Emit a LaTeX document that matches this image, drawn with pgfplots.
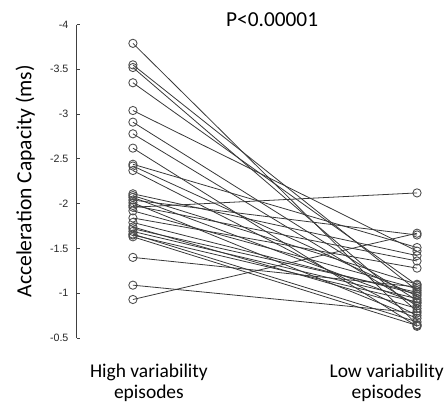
\documentclass[border=0pt]{standalone}
\usepackage{pgfplots}
\pgfplotsset{compat=1.18}
\usepackage{fontspec}
\setmainfont{Carlito}
\newfontfamily\arialf{Liberation Sans}
\begin{document}
\begin{tikzpicture}
\useasboundingbox (-57.5pt,-48.75pt) rectangle (277pt,253.5pt);
\begin{axis}[
  at={(0,0)}, anchor=south west,
  scale only axis, width=277pt, height=235.1pt,
  xmin=0.802, xmax=2.102, ymin=-4, ymax=-0.5,
  y dir=reverse,
  axis lines*=left,
  axis line style={-, line width=0.6pt, color=black!75},
  x axis line style={draw=none},
  xtick={1.0563,1.893},
  xticklabels={{High variability\\episodes},{Low variability\\episodes}},
  xtick style={draw=none},
  xticklabel style={align=center, inner sep=0pt, anchor=north, yshift=-19.5pt,
    font=\fontsize{14.6}{15.8}\selectfont},
  ytick={-4,-3.5,-3,-2.5,-2,-1.5,-1,-0.5},
  yticklabels={-4,-3.5,-3,-2.5,-2,-1.5,-1,-0.5},
  yticklabel style={font=\arialf\fontsize{8}{9}\selectfont, inner sep=0pt, xshift=-6pt, color=black!85},
  tick align=inside, major tick length=2.5pt,
  ytick style={line width=0.6pt, color=black!75},
  ylabel={Acceleration Capacity (ms)},
  ylabel style={at={(axis description cs:-0.1223,0.5)}, anchor=base,
    font=\fontsize{16.2}{18}\selectfont},
  clip=false,
  cycle list={{black}},
  every axis plot post/.append style={color=black!78, solid, line width=0.6pt,
    mark=o, mark size=3.1pt,
    mark options={solid, draw=black!70, fill=none, line width=0.65pt}},
]
\addplot coordinates {(1,-3.79) (2,-0.65)};
\addplot coordinates {(1,-3.55) (2,-1.03)};
\addplot coordinates {(1,-3.52) (2,-0.80)};
\addplot coordinates {(1,-3.35) (2,-1.09)};
\addplot coordinates {(1,-3.04) (2,-1.47)};
\addplot coordinates {(1,-2.91) (2,-0.92)};
\addplot coordinates {(1,-2.78) (2,-0.86)};
\addplot coordinates {(1,-2.62) (2,-0.63)};
\addplot coordinates {(1,-2.44) (2,-1.51)};
\addplot coordinates {(1,-2.42) (2,-0.97)};
\addplot coordinates {(1,-2.37) (2,-0.75)};
\addplot coordinates {(1,-2.11) (2,-1.42)};
\addplot coordinates {(1,-2.09) (2,-1.10)};
\addplot coordinates {(1,-2.07) (2,-0.89)};
\addplot coordinates {(1,-2.04) (2,-1.65)};
\addplot coordinates {(1,-2.01) (2,-0.72)};
\addplot coordinates {(1,-1.98) (2,-1.36)};
\addplot coordinates {(1,-1.96) (2,-2.12)};
\addplot coordinates {(1,-1.92) (2,-1.05)};
\addplot coordinates {(1,-1.84) (2,-1.28)};
\addplot coordinates {(1,-1.79) (2,-0.99)};
\addplot coordinates {(1,-1.74) (2,-0.83)};
\addplot coordinates {(1,-1.72) (2,-1.01)};
\addplot coordinates {(1,-1.69) (2,-0.94)};
\addplot coordinates {(1,-1.66) (2,-0.68)};
\addplot coordinates {(1,-1.65) (2,-0.90)};
\addplot coordinates {(1,-1.63) (2,-0.64)};
\addplot coordinates {(1,-1.40) (2,-1.07)};
\addplot coordinates {(1,-1.09) (2,-0.78)};
\addplot coordinates {(1,-0.93) (2,-1.67)};
\node[anchor=base, inner sep=0pt, yshift=-1.1pt, font=\fontsize{16}{18}\selectfont]
  at (axis cs:1.49,-4) {P<0.00001};
\end{axis}
\end{tikzpicture}
\end{document}
